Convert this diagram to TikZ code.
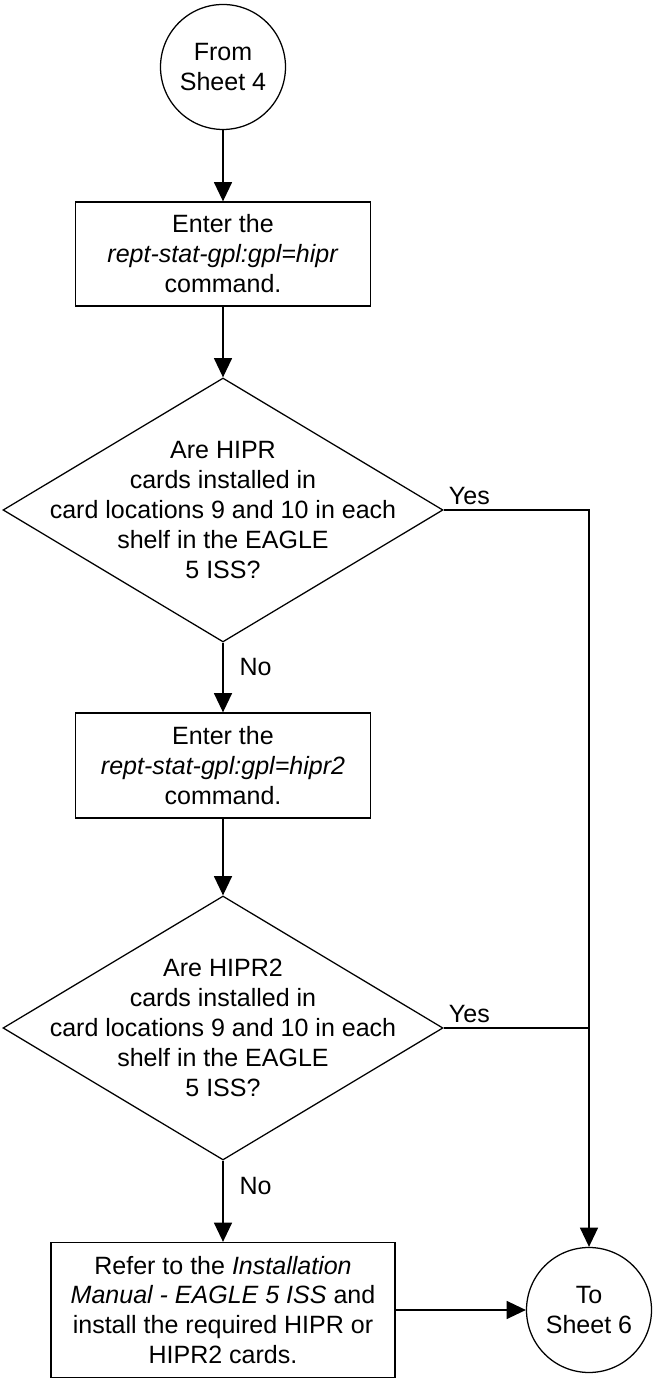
\documentclass[tikz,border=0pt]{standalone}
\usepackage{fontspec}
\setmainfont{Liberation Sans}
\usetikzlibrary{shapes.geometric, arrows.meta}

\begin{document}
\begin{tikzpicture}[
    font=\fontsize{17.8}{21.3}\selectfont,
    line width=0.9pt,
    >={Triangle[length=4.8mm, width=4.5mm]},
    % Define the styles for the flowchart shapes
    sheet/.style={circle, draw, minimum size=3.125cm, inner sep=0pt, align=center},
    stepbox/.style={rectangle, draw, inner sep=0pt, align=center},
    decision/.style={diamond, draw, minimum width=11cm, minimum height=6.6cm, inner sep=0pt}
]

\useasboundingbox (0,0) rectangle (16.3,34.45);

% Define the nodes of the main column
\node[sheet] (from4) at (5.575,32.775) {From\\Sheet 4};
\node[stepbox, minimum width=7.375cm, minimum height=2.6cm] (enter1) at (5.575,28.1)
    {Enter the\\\textit{rept-stat-gpl:gpl=hipr}\\command.};
\node[decision] (ask1) at (5.575,21.7) {};
\node[align=center] (ask1text) at (ask1) {Are HIPR\\cards installed in\\card locations 9 and 10 in each\\shelf in the EAGLE\\5 ISS?};
\node[stepbox, minimum width=7.375cm, minimum height=2.625cm] (enter2) at (5.575,15.3125)
    {Enter the\\\textit{rept-stat-gpl:gpl=hipr2}\\command.};
\node[decision] (ask2) at (5.575,8.75) {};
\node[align=center] (ask2text) at (ask2) {Are HIPR2\\cards installed in\\card locations 9 and 10 in each\\shelf in the EAGLE\\5 ISS?};
\node[stepbox, minimum width=8.6cm, minimum height=3.375cm] (refer) at (5.575,1.7)
    {Refer to the \textit{Installation}\\\textit{Manual - EAGLE 5 ISS} and\\install the required HIPR or\\HIPR2 cards.};

% Off-page connector on the right
\node[sheet] (to6) at (14.725,1.7) {To\\Sheet 6};
\coordinate (join2) at (ask2.east -| to6.north);

% Draw the arrows
\draw[->] (from4) -- (enter1);
\draw[->] (enter1) -- (ask1);
\draw[->] (ask1.south) -- (enter2.north) node[pos=0.35, right, xshift=0.28cm] {No};
\draw[->] (enter2) -- (ask2);
\draw[->] (ask2.south) -- (refer.north) node[pos=0.31, right, xshift=0.28cm] {No};
\draw[->] (ask1.east) node[above right] {Yes} -| (to6.north);
\draw (ask2.east) node[above right] {Yes} -- (join2);
\draw[->] (refer.east) -- (to6.west);

\end{tikzpicture}
\end{document}
